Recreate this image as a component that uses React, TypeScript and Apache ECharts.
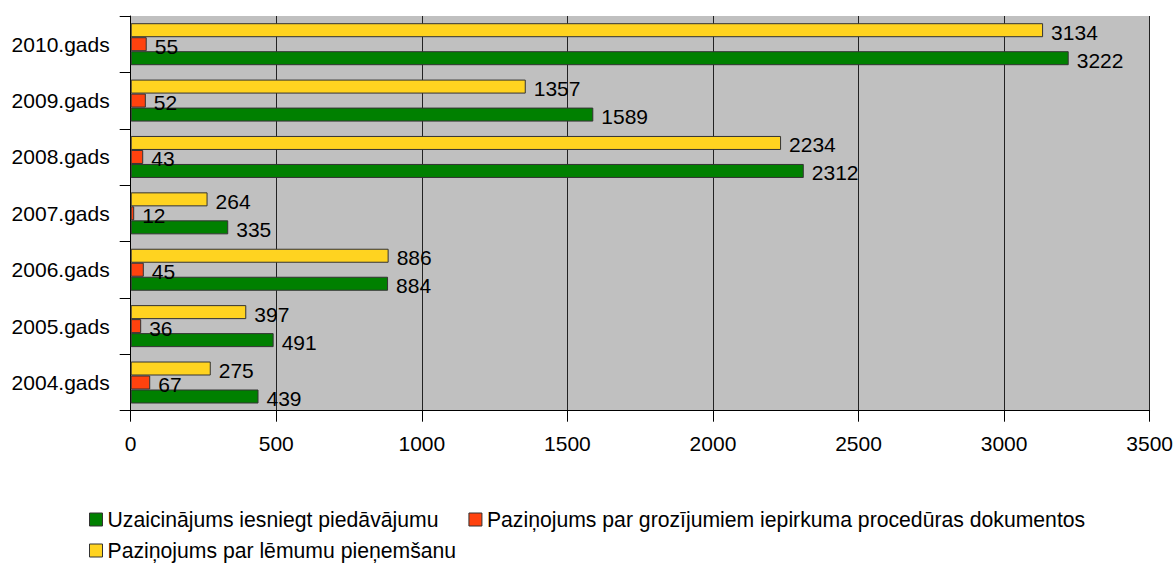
import React, { useEffect, useRef } from "react";
import * as echarts from "echarts";

const categories = ["2004.gads", "2005.gads", "2006.gads", "2007.gads", "2008.gads", "2009.gads", "2010.gads"];
const seriesNames = [
  "Uzaicinājums iesniegt piedāvājumu",
  "Paziņojums par grozījumiem iepirkuma procedūras dokumentos",
  "Paziņojums par lēmumu pieņemšanu",
];
const invitations = [439, 491, 884, 335, 2312, 1589, 3222];
const amendments = [67, 36, 45, 12, 43, 52, 55];
const decisions = [275, 397, 886, 264, 2234, 1357, 3134];
const colors = ["#008000", "#ff420e", "#ffd320"];

const FONT = "'Liberation Sans', Arial, sans-serif";

export default function App() {
  const ref = useRef<HTMLDivElement>(null);
  useEffect(() => {
    if (!ref.current) return;
    const chart = echarts.init(ref.current, undefined, { renderer: "svg" });
    const dataSets = [invitations, amendments, decisions];
    // ECharts stacks horizontal bar series top-down, so draw them in reverse
    const order = [2, 1, 0];
    chart.setOption({
      animation: false,
      textStyle: { fontFamily: FONT },
      grid: {
        left: 130.7,
        right: 23.5,
        top: 16,
        bottom: 152.3,
        show: true,
        backgroundColor: "#c0c0c0",
        borderWidth: 0,
      },
      legend: [
        {
          data: [seriesNames[0], seriesNames[1]],
          left: 89,
          top: 509,
          padding: 0,
          icon: "rect",
          itemWidth: 13,
          itemHeight: 13,
          itemGap: 30,
          itemStyle: { borderColor: "#333", borderWidth: 1 },
          textStyle: { fontSize: 21.2, color: "#000", fontFamily: FONT },
          selectedMode: false,
        },
        {
          data: [seriesNames[2]],
          left: 89,
          top: 540,
          padding: 0,
          icon: "rect",
          itemWidth: 13,
          itemHeight: 13,
          itemStyle: { borderColor: "#333", borderWidth: 1 },
          textStyle: { fontSize: 21.2, color: "#000", fontFamily: FONT },
          selectedMode: false,
        },
      ],
      xAxis: {
        type: "value",
        min: 0,
        max: 3500,
        interval: 500,
        axisLine: { show: true, lineStyle: { color: "#000", width: 1 } },
        axisTick: { show: true, length: 11, lineStyle: { color: "#000" } },
        axisLabel: {
          fontSize: 21,
          color: "#000",
          margin: 22,
          fontFamily: FONT,
          formatter: (v: number) => String(v),
        },
        splitLine: { show: true, lineStyle: { color: "#222", width: 1 } },
      },
      yAxis: {
        type: "category",
        data: categories,
        axisLine: { show: true, lineStyle: { color: "#000", width: 1 } },
        axisTick: { show: true, length: 11, lineStyle: { color: "#000" } },
        axisLabel: { fontSize: 21, color: "#000", margin: 21, fontFamily: FONT },
        splitLine: { show: false },
      },
      series: order.map((i) => ({
        name: seriesNames[i],
        type: "bar",
        data: dataSets[i],
        barWidth: 14,
        barGap: "0%",
        itemStyle: { color: colors[i], borderColor: "#333", borderWidth: 1 },
        label: {
          show: true,
          position: "right",
          distance: 8,
          offset: [0, 2],
          fontSize: 21,
          color: "#000",
          fontFamily: FONT,
        },
      })),
    });
    return () => chart.dispose();
  }, []);
  return (
    <div
      ref={ref}
      style={{ position: "absolute", left: 0, top: 0, width: 1176, height: 563, background: "#fff" }}
    />
  );
}
